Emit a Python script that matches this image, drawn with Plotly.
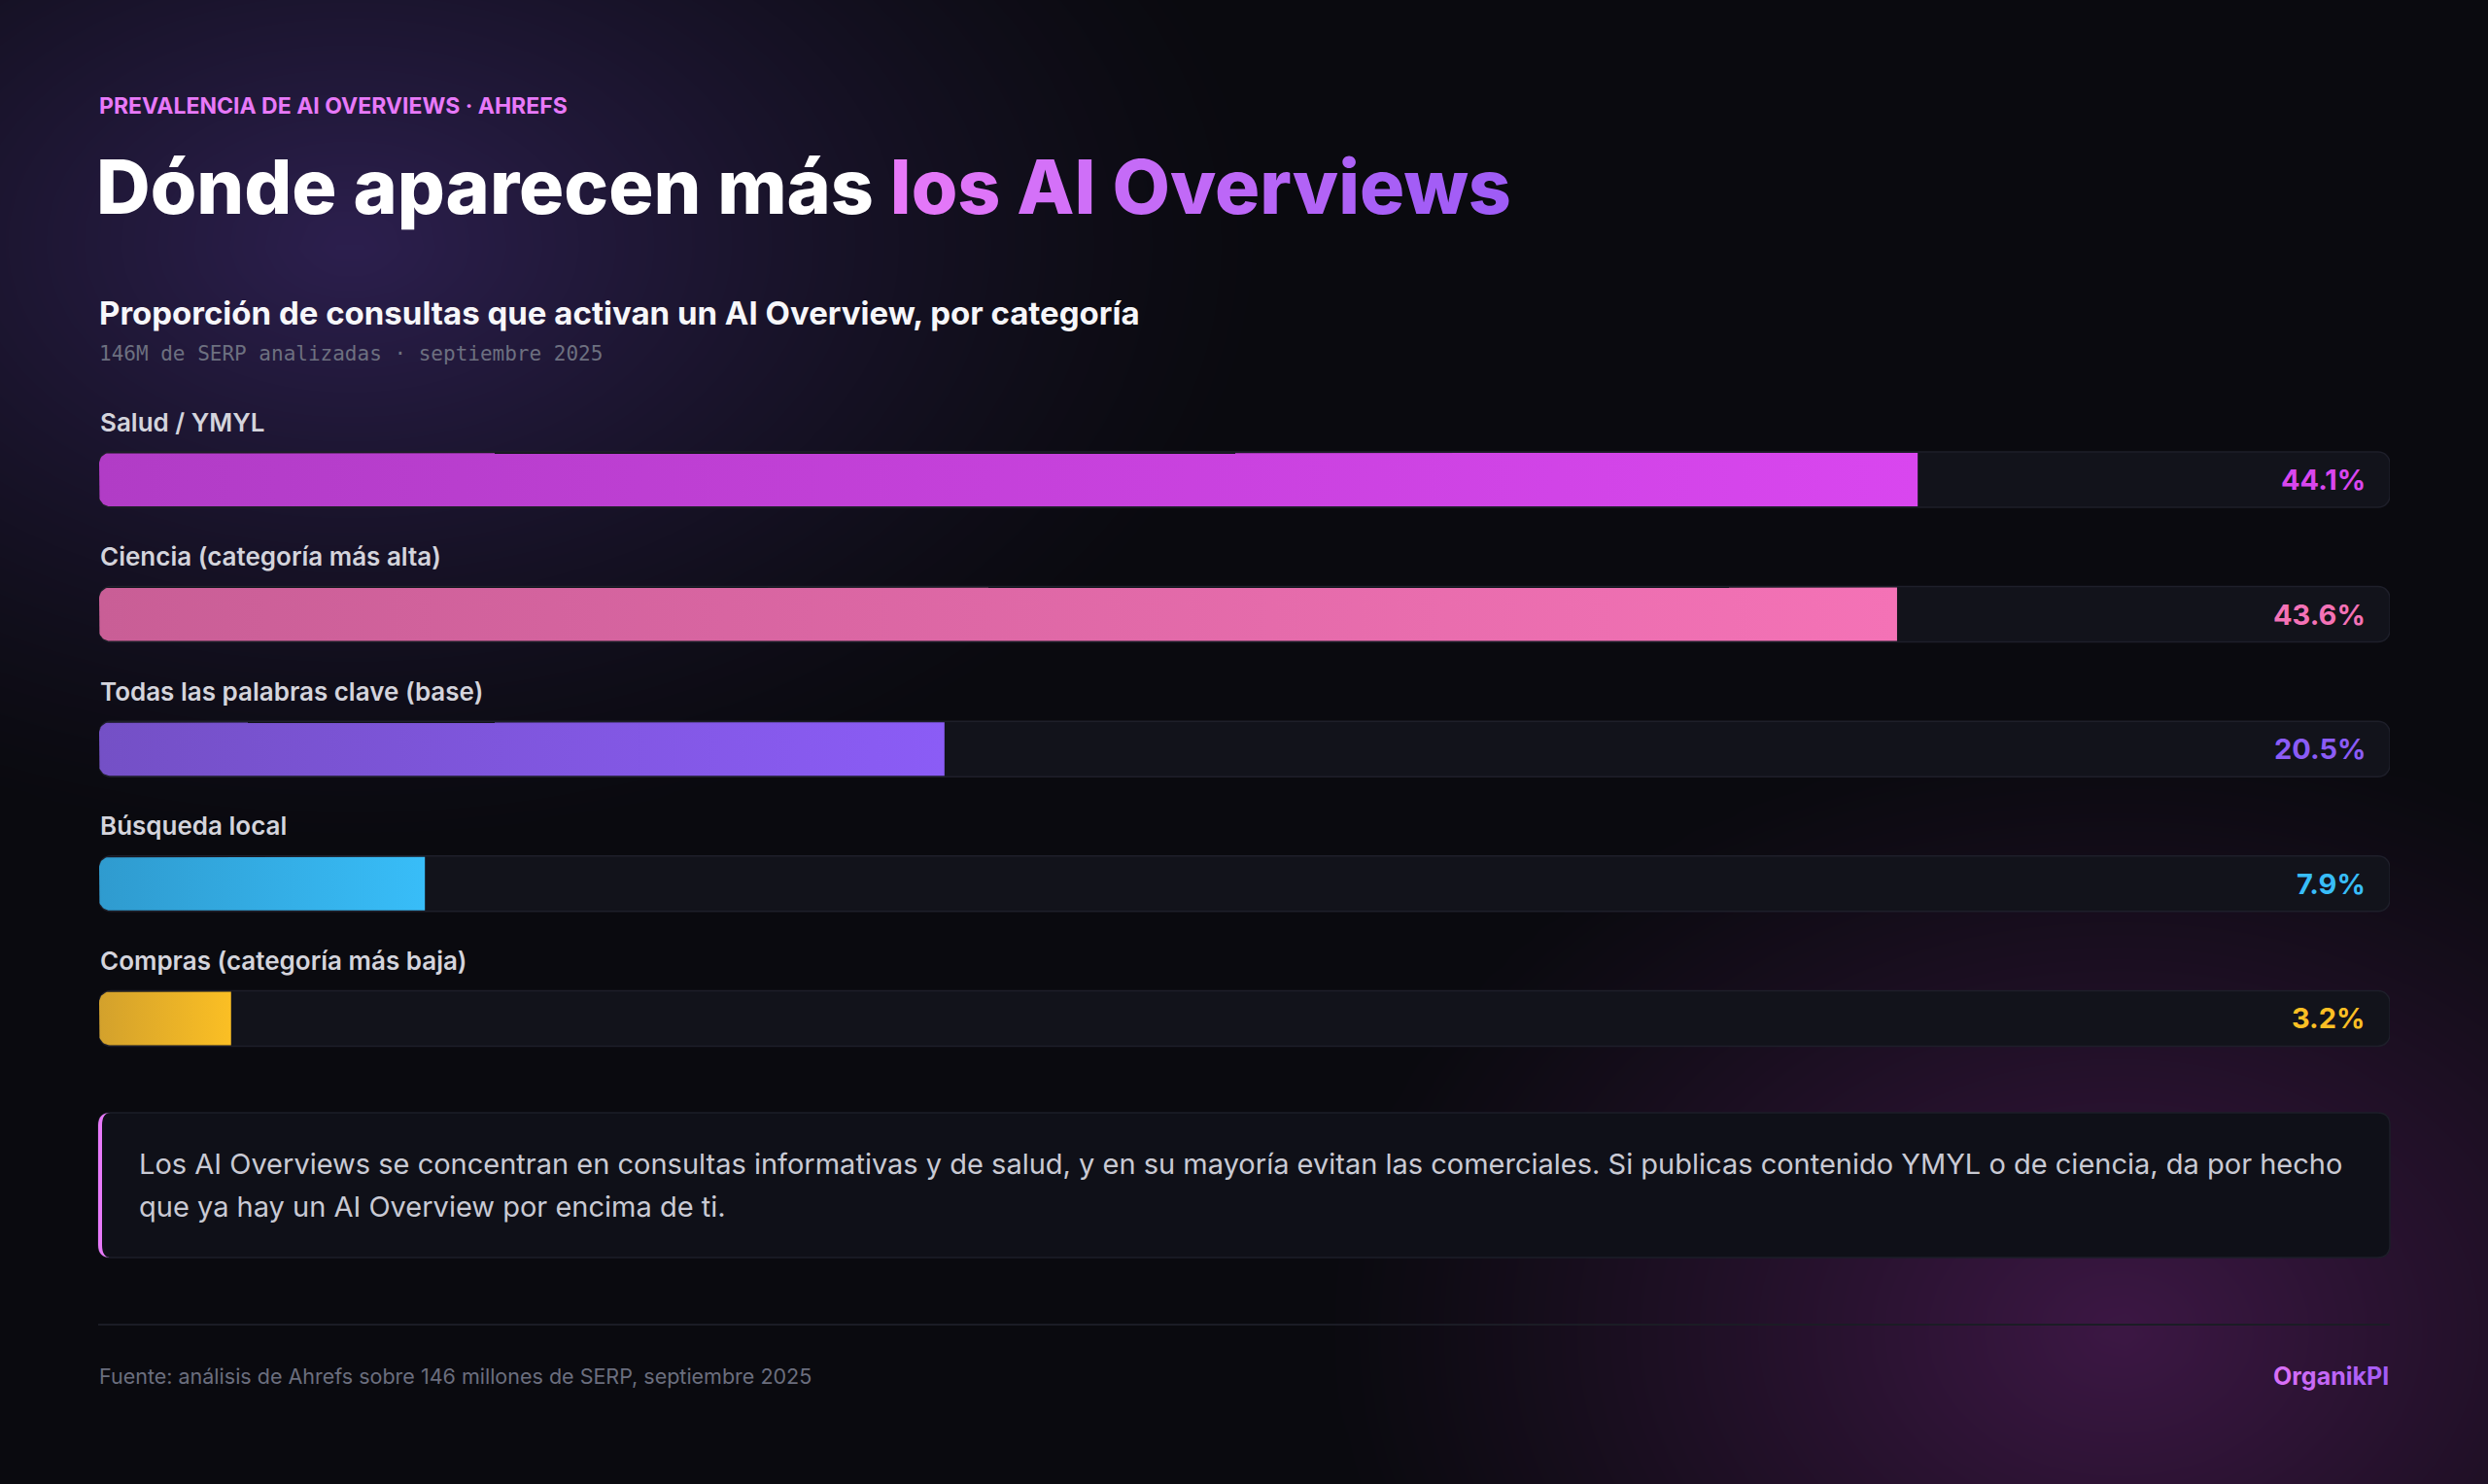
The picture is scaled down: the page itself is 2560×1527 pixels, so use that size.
import numpy as np
import plotly.graph_objects as go

# ---------------- data ----------------
categories = [
    "Salud / YMYL",
    "Ciencia (categoría más alta)",
    "Todas las palabras clave (base)",
    "Búsqueda local",
    "Compras (categoría más baja)",
]
values = [44.1, 43.6, 20.5, 7.9, 3.2]
value_labels = ["44.1%", "43.6%", "20.5%", "7.9%", "3.2%"]
scale_max = 55.55  # full track corresponds to this share (%)

kicker = "PREVALENCIA DE AI OVERVIEWS · AHREFS"
title_white = "Dónde aparecen más "
title_grad = "los AI Overviews"
subtitle = "Proporción de consultas que activan un AI Overview, por categoría"
meta = "146M de SERP analizadas · septiembre 2025"
callout_lines = [
    "Los AI Overviews se concentran en consultas informativas y de salud, y en su mayoría evitan las comerciales. Si publicas contenido YMYL o de ciencia, da por hecho",
    "que ya hay un AI Overview por encima de ti.",
]
source = "Fuente: análisis de Ahrefs sobre 146 millones de SERP, septiembre 2025"
brand = "OrganikPI"

# ---------------- style ----------------
W, H = 2560, 1527
BG = "#0a0a0f"
bar_bright = ["#d946ef", "#f472b6", "#8b5cf6", "#38bdf8", "#fbbf24"]
bar_dark = ["#b13cc6", "#c95e96", "#7450c6", "#2f9bcf", "#d3a12c"]
TRACK = "#12131b"
TRACK_LINE = "#1e1f2a"
FONT = "Inter"

X0_PX, X1_PX = 102, 2459          # track left/right in pixels
ROW0_PX, ROW_STEP = 493.5, 138.6   # first bar centre, row spacing
TRACK_H, FILL_H, RAD = 57, 55, 11

n = len(categories)
idx = list(range(n))

fig = go.Figure()

# ---- background glow (decorative) on main axes ----
gx = np.linspace(0, W, 97)
gy = np.linspace(0, H, 61)
GX, GY = np.meshgrid(gx, gy)
d1 = np.sqrt(((GX - 360) / 950) ** 2 + ((GY - 250) / 620) ** 2)
d2 = np.sqrt(((GX - 2180) / 820) ** 2 + ((GY - 1370) / 620) ** 2)
glow = -np.clip(1 - d1, 0, 1) ** 1.3 + np.clip(1 - d2, 0, 1) ** 1.15
fig.add_trace(go.Heatmap(
    x=gx, y=gy, z=glow, zmin=-1, zmax=1, zsmooth="best", showscale=False,
    colorscale=[[0, "#2c1f4e"], [0.5, BG], [1, "#3c1744"]],
    hoverinfo="skip", xaxis="x", yaxis="y",
))

# ---- tracks (bars on x2/y2) ----
px_per_x = (X1_PX - X0_PX) / scale_max
fig.add_trace(go.Bar(
    y=idx, x=[scale_max] * n, base=0, orientation="h",
    width=TRACK_H / ROW_STEP,
    marker=dict(color=TRACK, line=dict(color=TRACK_LINE, width=1.5), cornerradius=RAD + 1),
    hoverinfo="skip", xaxis="x2", yaxis="y2", showlegend=False,
))

# ---- gradient fills with rounded left corners ----
dx = 1 / px_per_x
dy = 1 / ROW_STEP
t = np.linspace(0, np.pi / 2, 12)
for i, v in enumerate(values):
    top = i - FILL_H / 2 * dy
    bot = i + FILL_H / 2 * dy
    xs, ys = [v], [top]
    ax = (RAD - RAD * np.sin(t)) * dx
    ay = top + (RAD - RAD * np.cos(t)) * dy
    xs += list(ax); ys += list(ay)
    bx = (RAD - RAD * np.cos(t)) * dx
    by = bot - (RAD - RAD * np.sin(t)) * dy
    xs += list(bx); ys += list(by)
    xs += [v, v]; ys += [bot, top]
    fig.add_trace(go.Scatter(
        x=xs, y=ys, mode="lines", fill="toself", line=dict(width=0),
        fillgradient=dict(type="horizontal",
                          colorscale=[[0, bar_dark[i]], [1, bar_bright[i]]]),
        hoverinfo="skip", xaxis="x2", yaxis="y2", showlegend=False,
    ))

annotations = []
for i, (cat, lab) in enumerate(zip(categories, value_labels)):
    annotations.append(dict(
        x=0, y=i - 59.5 * dy, xref="x2", yref="y2", text=cat, showarrow=False,
        xanchor="left", yanchor="middle", xshift=-1,
        font=dict(family=FONT, size=26, color="#d4d4dc", weight=600),
    ))
    annotations.append(dict(
        x=scale_max, y=i, xref="x2", yref="y2", text=lab, showarrow=False,
        xanchor="right", yanchor="middle", xshift=-23,
        font=dict(family=FONT, size=29, color=bar_bright[i], weight=700),
    ))


def px_x(p):
    return p / W


def px_y(p):
    return 1 - p / H


def grad_text(s, c0, c1):
    a = np.array([int(c0[k:k + 2], 16) for k in (1, 3, 5)], float)
    b = np.array([int(c1[k:k + 2], 16) for k in (1, 3, 5)], float)
    out = []
    m = max(len(s) - 1, 1)
    for k, ch in enumerate(s):
        c = a + (b - a) * k / m
        out.append("<span style='color:rgb(%d,%d,%d)'>%s</span>" % (c[0], c[1], c[2], ch))
    return "".join(out)


annotations += [
    dict(x=px_x(100), y=px_y(109), text=kicker,
         font=dict(family=FONT, size=23, color="#e879f9", weight=700)),
    dict(x=px_x(97), y=px_y(192),
         text=title_white + grad_text(title_grad, "#e879f9", "#9f5cf6"),
         font=dict(family=FONT, size=77, color="#ffffff", weight=800)),
    dict(x=px_x(100), y=px_y(322), text=subtitle,
         font=dict(family=FONT, size=33, color="#f7f7fa", weight=700)),
    dict(x=px_x(100), y=px_y(364), text=meta,
         font=dict(family="DejaVu Sans Mono", size=21, color="#6d7080")),
    dict(x=px_x(141), y=px_y(1197), text=callout_lines[0],
         font=dict(family=FONT, size=29, color="#c9cad4")),
    dict(x=px_x(141), y=px_y(1241), text=callout_lines[1],
         font=dict(family=FONT, size=29, color="#c9cad4")),
    dict(x=px_x(100), y=px_y(1416), text=source,
         font=dict(family=FONT, size=21.5, color="#6b6e7e")),
    dict(x=px_x(2460), y=px_y(1416), text=grad_text(brand, "#d86ff7", "#a35cf6"),
         xanchor="right",
         font=dict(family=FONT, size=25, color="#c06af7", weight=700)),
]
for a in annotations[2 * n:]:
    a.setdefault("xref", "paper")
    a.setdefault("yref", "paper")
    a.setdefault("xanchor", "left")
    a.setdefault("yanchor", "middle")
    a["showarrow"] = False


def rpath(x0, y0, x1, y1, r):
    Y = lambda v: -v
    return (f"M{x0 + r},{Y(y0)} L{x1 - r},{Y(y0)} Q{x1},{Y(y0)} {x1},{Y(y0 + r)} "
            f"L{x1},{Y(y1 - r)} Q{x1},{Y(y1)} {x1 - r},{Y(y1)} L{x0 + r},{Y(y1)} "
            f"Q{x0},{Y(y1)} {x0},{Y(y1 - r)} L{x0},{Y(y0 + r)} Q{x0},{Y(y0)} {x0 + r},{Y(y0)} Z")


cx0, cy0, cx1, cy1, cr = 101, 1145, 2459, 1294, 13
crescent = (f"M{cx0 + cr},{-cy0} Q{cx0},{-cy0} {cx0},{-(cy0 + cr)} L{cx0},{-(cy1 - cr)} "
            f"Q{cx0},{-cy1} {cx0 + cr},{-cy1} Q{cx0 + 4},{-cy1} {cx0 + 4},{-(cy1 - cr)} "
            f"L{cx0 + 4},{-(cy0 + cr)} Q{cx0 + 4},{-cy0} {cx0 + cr},{-cy0} Z")

shapes = [
    dict(type="path", xref="paper", yref="paper", xsizemode="pixel", ysizemode="pixel",
         xanchor=0, yanchor=1, path=rpath(cx0, cy0, cx1, cy1, cr),
         fillcolor="#0f1018", line=dict(color="#1d1e29", width=1.5)),
    dict(type="path", xref="paper", yref="paper", xsizemode="pixel", ysizemode="pixel",
         xanchor=0, yanchor=1, path=crescent, fillcolor="#e879f9", line=dict(width=0)),
    dict(type="line", xref="paper", yref="paper", x0=px_x(101), x1=px_x(2459),
         y0=px_y(1363), y1=px_y(1363), line=dict(color="#1b1c25", width=2)),
]

ybot = 1 - (ROW0_PX + ROW_STEP * (n - 0.5)) / H
ytop = 1 - (ROW0_PX - ROW_STEP * 0.5) / H

fig.update_layout(
    width=W, height=H, autosize=False,
    margin=dict(l=0, r=0, t=0, b=0, pad=0),
    paper_bgcolor=BG, plot_bgcolor="rgba(0,0,0,0)",
    showlegend=False, barmode="overlay",
    xaxis=dict(domain=[0, 1], range=[0, W], visible=False, fixedrange=True),
    yaxis=dict(domain=[0, 1], range=[H, 0], visible=False, fixedrange=True),
    xaxis2=dict(domain=[X0_PX / W, X1_PX / W], range=[0, scale_max], visible=False,
                fixedrange=True, anchor="y2"),
    yaxis2=dict(domain=[ybot, ytop], range=[n - 0.5, -0.5], visible=False,
                fixedrange=True, anchor="x2"),
    annotations=annotations,
    shapes=shapes,
    hovermode=False,
)

fig.write_html("out.html", config={"displayModeBar": False, "staticPlot": True})
